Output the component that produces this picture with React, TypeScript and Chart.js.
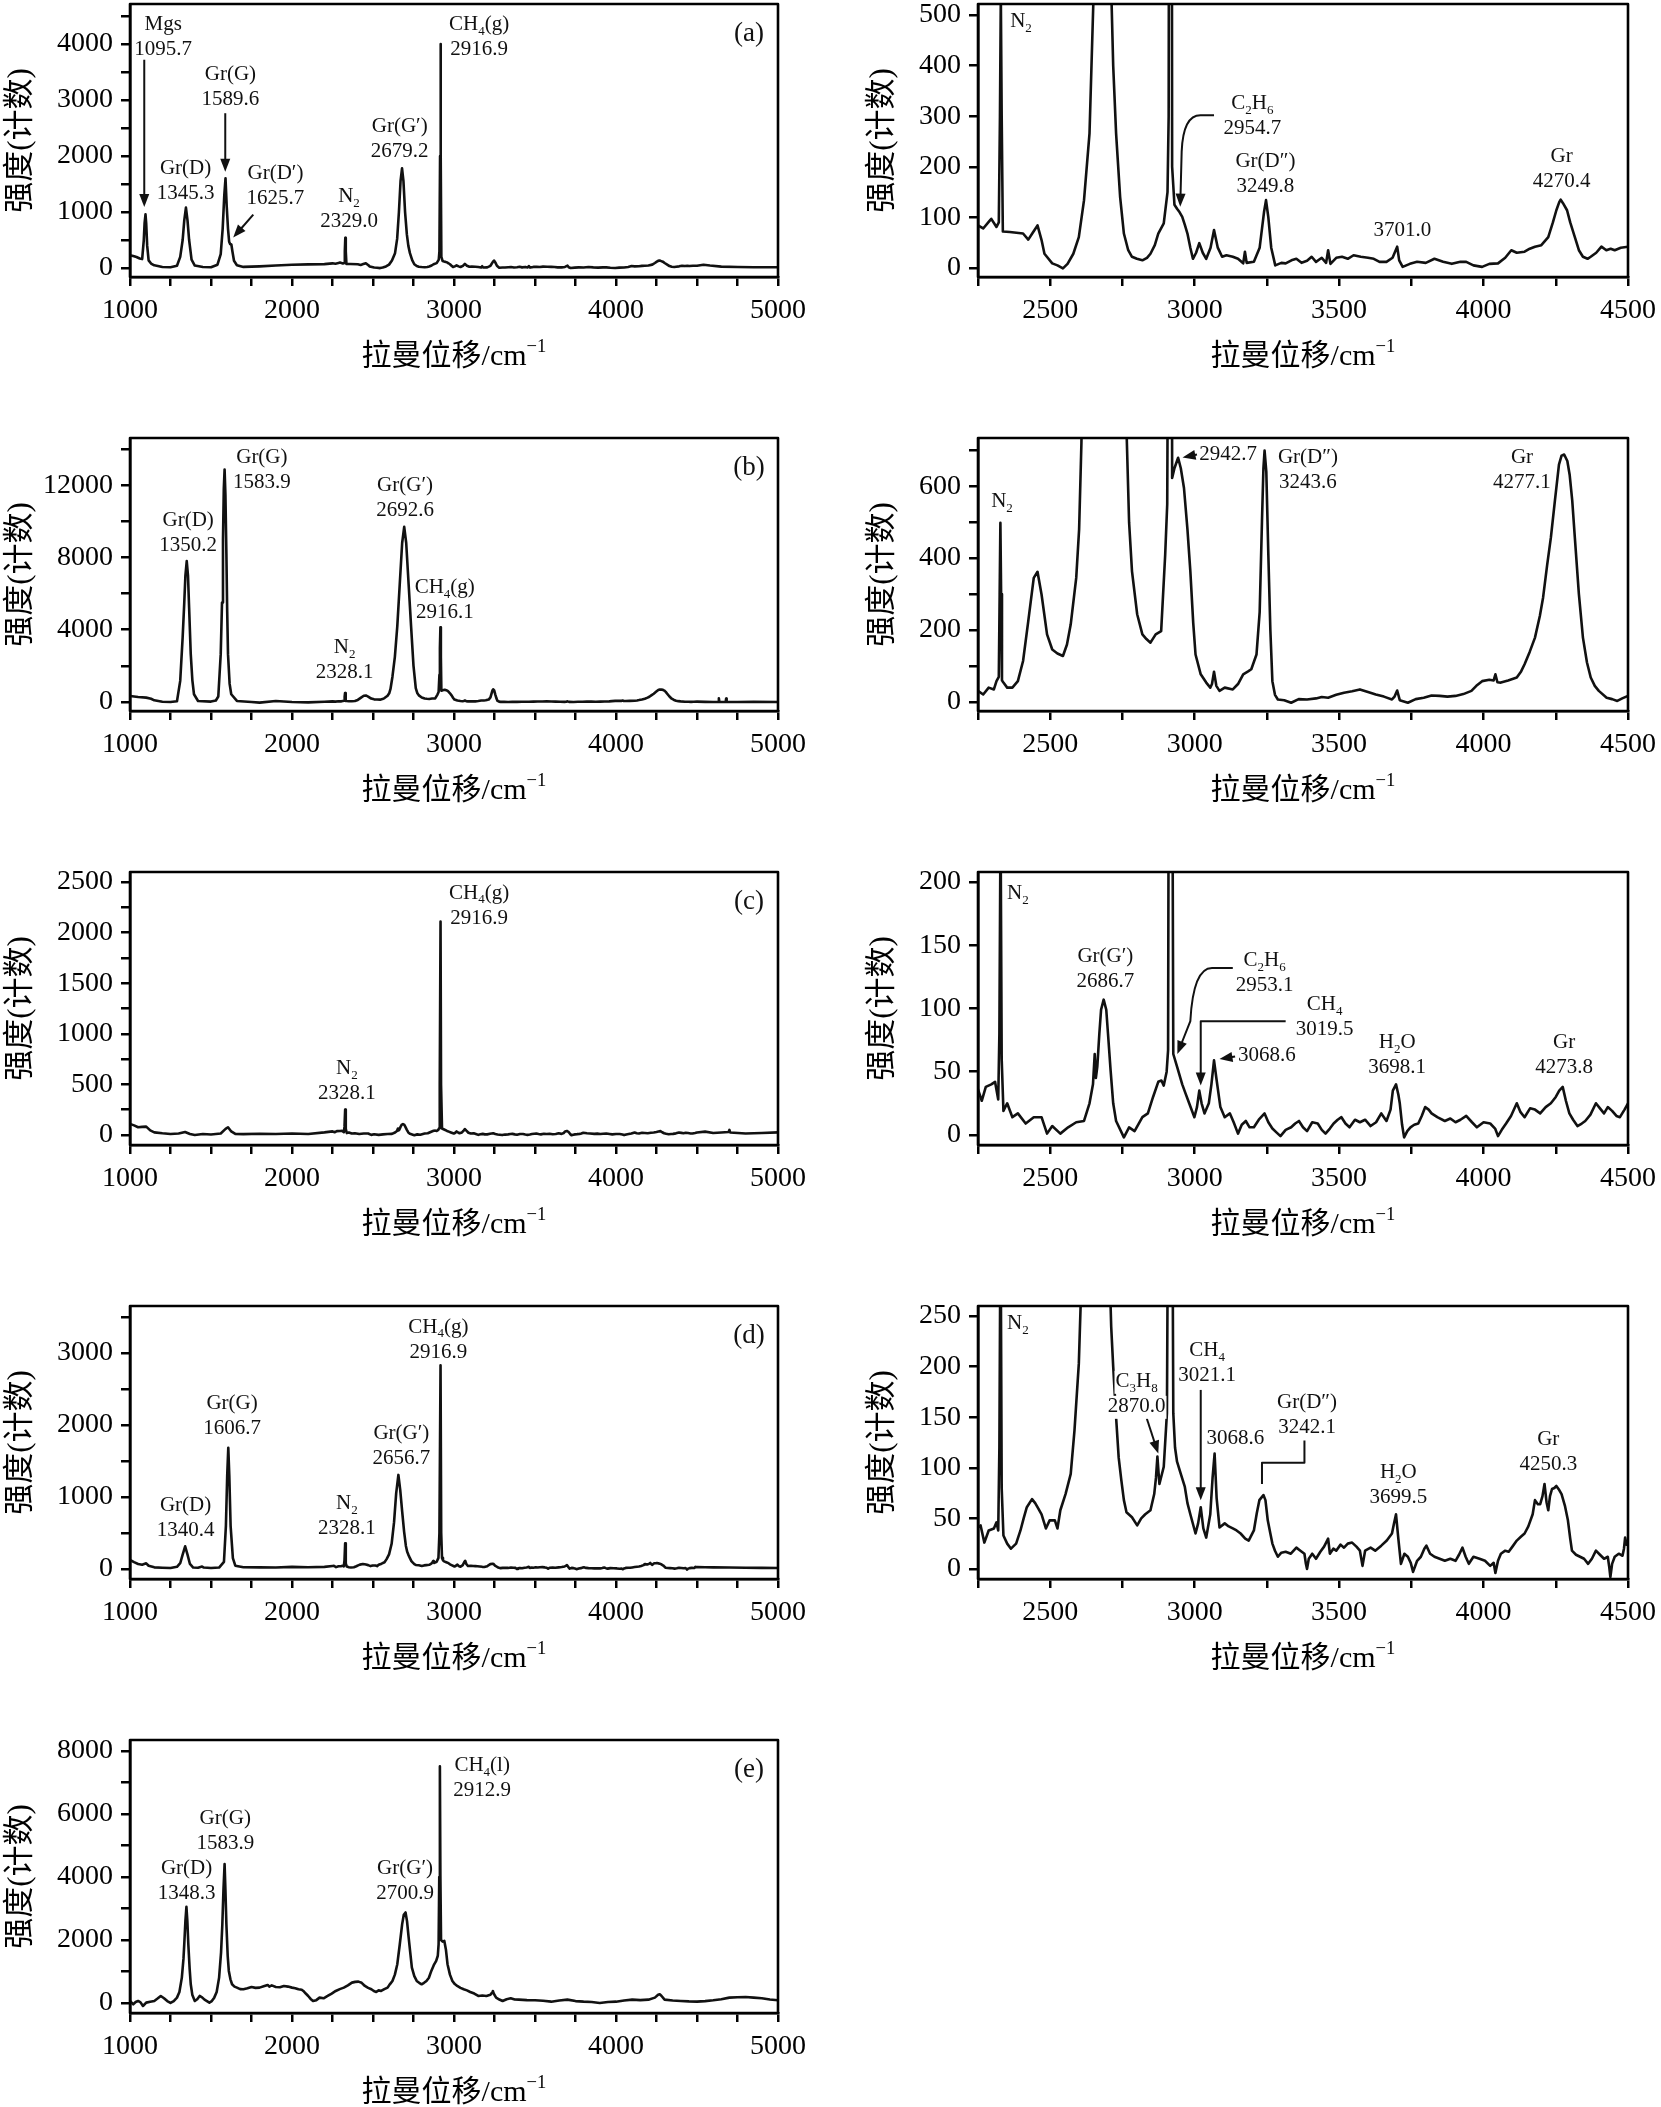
import React, { useEffect, useRef } from 'react';
import { Chart, registerables } from 'chart.js';

Chart.register(...registerables);

type Pt = [number, number];

// ---------- spectra (Raman shift cm-1, intensity counts) ----------
const SPEC_A: Pt[] = [
  [1000, 227], [1020, 215], [1040, 197], [1060, 170], [1075, 160], [1085, 495], [1090, 800], [1095.7, 960], [1100, 800], [1106, 400], [1115, 137], [1130, 80], [1150, 48], [1200, 18], [1250, 15], [1290, 40], [1310, 200], [1325, 500], [1335, 850], [1345.3, 1080], [1355, 850], [1365, 500], [1380, 150], [1400, 45], [1450, 18], [1500, 15], [1540, 60], [1560, 250], [1572, 700], [1582, 1300], [1589.6, 1600], [1597, 1100], [1605, 700], [1612, 470], [1618, 430], [1625.7, 420], [1632, 300], [1642, 130], [1660, 50], [1700, 20], [1800, 30], [1900, 45], [2000, 60], [2100, 65], [2200, 70], [2250, 84],
  [2268, 78], [2287, 91], [2296, 97], [2314, 81], [2322, 90], [2326, 300], [2329, 540], [2332, 300], [2336, 72], [2360, 71], [2406, 68], [2424, 56], [2440, 70], [2456, 84], [2470, 55], [2480, 28], [2507, 9], [2525, 5], [2544, -1], [2560, 8], [2580, 28], [2599, 61], [2617, 134], [2636, 266], [2649, 520], [2660, 1000], [2670, 1550], [2679.2, 1780], [2688, 1550], [2698, 1000], [2709, 600], [2718, 400], [2728, 266], [2742, 140], [2755, 68], [2770, 35], [2783, 22], [2800, 18], [2819, 15], [2835, 20], [2847, 28], [2862, 45], [2874, 68], [2893, 88], [2906, 150], [2910, 300], [2914, 2000], [2916.9, 4000], [2919, 2000], [2922, 200], [2930, 125], [2939, 117], [2948, 110], [2957, 101], [2966, 85], [2975, 68], [2985, 40], [2994, 18], [3005, 30], [3016, 49], [3028, 30], [3040, 18], [3055, 40], [3067, 75], [3080, 40], [3095, 22], [3110, 25], [3132, 22], [3150, 18], [3168, 9], [3174, 32], [3180, 10], [3205, 12], [3225, 40], [3240, 110], [3247, 134], [3255, 100], [3265, 40], [3279, 5], [3300, 10], [3315, 9], [3335, 15], [3352, 18], [3370, 10], [3389, 14], [3405, 22], [3420, 12], [3440, 20], [3455, 10], [3462, 35], [3470, 8], [3490, 20], [3510, 22], [3530, 18], [3550, 25], [3575, 22], [3600, 20], [3620, 18], [3640, 12], [3664, 12], [3685, 20], [3701, 42], [3708, 15], [3720, 2], [3745, 8], [3770, 12], [3800, 10], [3830, 18], [3860, 12], [3890, 8], [3920, 12], [3940, 12], [3965, 5], [3995, 2], [4020, 8], [4050, 9], [4075, 20], [4096, 35], [4115, 30], [4142, 32], [4160, 38], [4178, 42], [4200, 45], [4224, 61], [4240, 90], [4252, 114], [4262, 130], [4267, 135], [4275, 128], [4289, 114], [4300, 90], [4316, 61], [4330, 35], [4344, 22], [4360, 18], [4371, 22], [4390, 30], [4408, 42], [4425, 35], [4440, 38], [4454, 35], [4475, 40], [4500, 42],
  [4540, 60], [4580, 45], [4650, 25], [4750, 18], [4850, 15], [5000, 15],
];

const SPEC_B: Pt[] = [
  [1000, 333], [1050, 278], [1100, 240], [1130, 180], [1150, 92], [1200, 10], [1250, 0], [1290, 40], [1310, 1167], [1325, 3574], [1335, 5500], [1342, 7000], [1350.2, 7800], [1358, 7000], [1365, 5200], [1375, 2648], [1385, 1200], [1395, 426], [1420, 56], [1500, 20], [1530, 80], [1545, 300], [1560, 2648], [1568, 5500], [1574, 9000], [1579, 11800], [1583.9, 12870], [1589, 11500], [1595, 8200], [1600, 5000], [1605, 2648], [1615, 1000], [1625, 426], [1660, 56], [1750, 0], [1800, -37], [1900, 56], [2000, 0], [2100, -20], [2200, 10], [2250, 31],
  [2268, 21], [2287, 40], [2305, 35], [2314, 58], [2322, 70], [2325, 300], [2327.5, 498], [2330, 300], [2333, 60], [2338, 54], [2351, 40], [2369, 40], [2388, 58], [2406, 114], [2424, 225], [2443, 345], [2456, 362], [2470, 299], [2489, 188], [2507, 146], [2525, 135], [2544, 128], [2558, 160], [2571, 216], [2590, 345], [2600, 480], [2608, 720], [2620, 1400], [2635, 2500], [2650, 4200], [2665, 6500], [2680, 8800], [2692.6, 9690], [2705, 8800], [2720, 6500], [2735, 4200], [2750, 2000], [2764, 760], [2773, 500], [2783, 364], [2801, 244], [2819, 188], [2833, 175], [2847, 165], [2865, 188], [2884, 197], [2898, 410], [2905, 550], [2910, 1500], [2913, 3000], [2916.1, 4130], [2919, 2500], [2922, 623], [2930, 650], [2942.7, 679], [2952, 650], [2963, 595], [2975, 480], [2985, 364], [2995, 220], [3003, 132], [3021, 77], [3040, 54], [3054, 40], [3060, 50], [3067, 84], [3075, 45], [3086, 31], [3104, 40], [3132, 35], [3150, 50], [3168, 77], [3185, 85], [3196, 91], [3214, 132], [3225, 250], [3233, 503], [3238, 650], [3242, 699], [3248, 640], [3255, 410], [3262, 200], [3269, 58], [3278, 20], [3288, 7], [3310, 5], [3334, -2], [3360, 8], [3389, 7], [3420, 10], [3440, 14], [3462, 12], [3490, 20], [3517, 26], [3545, 30], [3572, 35], [3600, 28], [3627, 21], [3655, 15], [3683, 7], [3692, 15], [3701, 32], [3710, 5], [3738, -2], [3765, 8], [3793, 12], [3820, 18], [3848, 17], [3875, 15], [3903, 17], [3930, 22], [3958, 31], [3975, 45], [3995, 58], [4020, 62], [4035, 60], [4041, 77], [4048, 55], [4060, 54], [4085, 60], [4115, 68], [4130, 85], [4142, 105], [4160, 140], [4178, 179], [4195, 240], [4206, 290], [4220, 380], [4233, 457], [4247, 560], [4261, 660], [4270, 685], [4279, 688], [4290, 670], [4298, 632], [4307, 560], [4316, 457], [4330, 300], [4344, 179], [4358, 110], [4371, 68], [4385, 45], [4399, 31], [4426, 12], [4445, 8], [4463, 3], [4480, 10], [4500, 17],
  [4550, 5], [4600, 0], [4632, 0], [4635, 200], [4638, 0], [4677, 0], [4680, 190], [4683, 0], [4750, 0], [4850, 5], [5000, 0],
];

const SPEC_C: Pt[] = [
  [1000, 109], [1025, 95], [1050, 76], [1075, 80], [1100, 83], [1125, 45], [1150, 26], [1200, 17], [1250, 10], [1300, 15], [1340, 30], [1370, 10], [1400, 0], [1450, 10], [1500, 5], [1560, 15], [1590, 60], [1605, 76], [1625, 35], [1650, 10], [1700, 8], [1800, 12], [1900, 10], [2000, 15], [2100, 10], [2200, 26], [2250, 36],
  [2263, 27], [2277, 38], [2296, 40], [2309, 42], [2320, 28], [2324, 80], [2328.1, 251], [2332, 60], [2338, 19], [2351, 25], [2369, 14], [2388, 17], [2415, 9], [2443, 14], [2470, 14], [2489, 1], [2507, 7], [2535, 1], [2562, 6], [2590, 10], [2617, 11], [2636, 25], [2648, 40], [2654, 64], [2658, 45], [2663, 54], [2670, 80], [2676, 99], [2685, 107], [2694, 99], [2700, 80], [2709, 51], [2718, 25], [2728, 11], [2755, -2], [2773, 6], [2792, 3], [2819, 14], [2838, 17], [2856, 30], [2874, 42], [2885, 43], [2893, 39], [2903, 50], [2908, 67], [2912, 500], [2916.9, 2110], [2920, 500], [2926, 64], [2939, 54], [2957, 40], [2968, 33], [2981, 25], [2999, 14], [3008, 22], [3016, 35], [3024, 25], [3034, 17], [3049, 25], [3058, 40], [3067, 59], [3075, 45], [3089, 22], [3104, 14], [3122, 17], [3135, 10], [3150, 1], [3163, 8], [3177, 11], [3190, 6], [3205, 6], [3222, 12], [3242, 17], [3255, 10], [3269, 5], [3283, 2], [3297, -1], [3315, 4], [3334, 6], [3348, 9], [3361, 11], [3375, 6], [3389, 3], [3407, 10], [3426, 9], [3440, 4], [3453, 1], [3468, 5], [3481, 9], [3495, 12], [3508, 14], [3522, 9], [3536, 6], [3555, 12], [3572, 10], [3590, 12], [3609, 7], [3628, 10], [3646, 17], [3664, 11], [3678, 20], [3686, 35], [3697, 40], [3705, 32], [3710, 25], [3718, 8], [3725, -2], [3736, 3], [3747, 6], [3760, 8], [3774, 9], [3786, 15], [3798, 22], [3810, 20], [3820, 17], [3840, 14], [3866, 11], [3885, 13], [3903, 10], [3920, 12], [3940, 15], [3960, 10], [3977, 6], [4000, 10], [4023, 9], [4040, 5], [4050, -1], [4063, 4], [4078, 9], [4095, 15], [4115, 25], [4128, 18], [4142, 14], [4161, 21], [4178, 20], [4196, 17], [4215, 22], [4233, 25], [4250, 30], [4262, 35], [4274, 38], [4285, 27], [4297, 17], [4310, 12], [4325, 7], [4340, 9], [4352, 11], [4370, 16], [4389, 25], [4403, 21], [4417, 17], [4430, 22], [4445, 19], [4460, 15], [4472, 14], [4488, 20], [4500, 25],
  [4550, 33], [4600, 20], [4650, 25], [4695, 30], [4700, 50], [4705, 25], [4800, 15], [4900, 20], [5000, 26],
];

const SPEC_D: Pt[] = [
  [1000, 125], [1025, 95], [1050, 70], [1075, 60], [1100, 79], [1115, 45], [1150, 23], [1200, 18], [1250, 14], [1290, 30], [1310, 80], [1325, 200], [1340.4, 315], [1355, 200], [1370, 70], [1390, 20], [1420, 18], [1445, 35], [1455, 20], [1500, 14], [1550, 20], [1580, 100], [1592, 600], [1600, 1300], [1606.7, 1683], [1613, 1300], [1621, 600], [1635, 150], [1650, 46], [1700, 25], [1800, 23], [1900, 20], [2000, 30], [2100, 25], [2200, 30], [2250, 41],
  [2259, 43], [2272, 26], [2287, 38], [2305, 40], [2314, 46], [2320, 38], [2324, 120], [2328.1, 357], [2332, 80], [2338, 33], [2351, 25], [2364, 20], [2382, 25], [2397, 38], [2408, 50], [2419, 61], [2437, 69], [2448, 65], [2456, 61], [2470, 54], [2485, 40], [2498, 48], [2516, 48], [2525, 40], [2535, 58], [2553, 74], [2571, 94], [2584, 137], [2599, 203], [2615, 350], [2630, 650], [2643, 1050], [2656.7, 1307], [2668, 1100], [2680, 800], [2692, 520], [2703, 320], [2711, 240], [2718, 200], [2728, 150], [2737, 110], [2746, 88], [2755, 68], [2764, 56], [2783, 51], [2801, 43], [2815, 50], [2829, 54], [2847, 58], [2860, 74], [2866, 90], [2871, 111], [2875, 95], [2878, 84], [2893, 101], [2904, 154], [2910, 500], [2916.9, 2829], [2921, 500], [2926, 154], [2932, 120], [2939, 106], [2952, 94], [2966, 81], [2975, 65], [2985, 54], [3003, 35], [3012, 45], [3021, 61], [3030, 40], [3040, 31], [3054, 54], [3062, 90], [3069, 114], [3076, 70], [3086, 41], [3104, 45], [3118, 42], [3132, 40], [3145, 38], [3159, 35], [3175, 30], [3187, 28], [3205, 38], [3215, 55], [3224, 68], [3238, 73], [3245, 68], [3253, 48], [3262, 35], [3269, 25], [3278, 18], [3288, 12], [3300, 16], [3315, 17], [3333, 15], [3352, 21], [3366, 18], [3380, 15], [3385, 5], [3389, 0], [3395, 10], [3407, 15], [3420, 10], [3435, 17], [3448, 22], [3462, 30], [3468, 15], [3480, 20], [3490, 18], [3505, 24], [3517, 21], [3530, 25], [3545, 26], [3560, 22], [3572, 18], [3581, 3], [3590, 18], [3609, 21], [3625, 18], [3646, 23], [3665, 28], [3683, 35], [3690, 45], [3697, 54], [3705, 30], [3714, 5], [3726, 15], [3738, 12], [3748, 6], [3756, -3], [3770, 8], [3783, 12], [3795, 20], [3802, 23], [3815, 15], [3830, 12], [3848, 10], [3866, 8], [3885, 10], [3903, 8], [3915, 14], [3927, 21], [3938, 12], [3949, 5], [3965, 12], [3986, 10], [4005, 8], [4023, 3], [4035, 6], [4041, -4], [4050, 8], [4060, 15], [4075, 18], [4087, 17], [4100, 22], [4115, 28], [4130, 32], [4142, 35], [4155, 42], [4170, 54], [4178, 68], [4188, 64], [4196, 64], [4204, 72], [4211, 84], [4218, 66], [4224, 58], [4230, 72], [4237, 79], [4245, 80], [4252, 82], [4262, 78], [4270, 74], [4282, 62], [4292, 48], [4300, 30], [4306, 18], [4320, 14], [4334, 12], [4348, 10], [4362, 5], [4375, 10], [4389, 18], [4403, 14], [4417, 10], [4430, 12], [4435, 2], [4439, -8], [4445, 5], [4454, 12], [4468, 15], [4481, 13], [4486, 20], [4490, 31], [4495, 24], [4500, 26],
  [4550, 25], [4600, 23], [4700, 20], [4800, 18], [4900, 16], [5000, 14],
];

const SPEC_E: Pt[] = [
  [1000, 64], [1020, -42], [1035, 30], [1050, 64], [1065, 20], [1080, -95], [1100, 11], [1125, 40], [1150, 64], [1170, 140], [1190, 223], [1210, 150], [1230, 60], [1250, 0], [1270, 60], [1290, 170], [1305, 350], [1320, 806], [1330, 1400], [1335, 1867], [1342, 2600], [1348.3, 3056], [1354, 2600], [1360, 1867], [1368, 1100], [1375, 594], [1385, 250], [1400, 64], [1415, 120], [1430, 223], [1445, 180], [1460, 106], [1475, 60], [1490, 11], [1505, 60], [1520, 170], [1535, 350], [1550, 806], [1562, 1600], [1570, 2500], [1577, 3600], [1583.9, 4414], [1589, 3600], [1595, 2500], [1603, 1500], [1610, 1019], [1620, 750], [1630, 594], [1645, 520], [1660, 488], [1680, 440], [1700, 435], [1725, 470], [1750, 509], [1775, 480], [1800, 488], [1825, 530], [1850, 573], [1860, 520], [1875, 560], [1900, 509], [1925, 500], [1950, 541], [1975, 520], [2000, 488], [2020, 470], [2040, 435], [2060, 420], [2070, 382], [2085, 300], [2100, 223], [2115, 130], [2130, 64], [2150, 90], [2170, 170], [2195, 150], [2220, 223], [2245, 300], [2270, 382], [2295, 440], [2320, 488], [2345, 560], [2370, 647], [2390, 670], [2410, 679], [2430, 640], [2450, 541], [2470, 480], [2490, 435], [2505, 380], [2520, 350], [2535, 400], [2550, 382], [2570, 440], [2590, 488], [2605, 600], [2620, 700], [2635, 900], [2650, 1231], [2665, 1850], [2680, 2504], [2690, 2800], [2700.9, 2875], [2710, 2600], [2720, 2080], [2730, 1600], [2740, 1125], [2755, 850], [2770, 700], [2785, 640], [2800, 594], [2815, 640], [2830, 700], [2845, 800], [2860, 1019], [2875, 1200], [2890, 1337], [2900, 1500], [2905, 1867], [2909, 4000], [2912.9, 7512], [2916, 4000], [2920, 2000], [2930, 1950], [2940, 1973], [2950, 1700], [2960, 1231], [2975, 900], [2990, 700], [3005, 600], [3020, 541], [3040, 480], [3060, 435], [3080, 400], [3100, 350], [3125, 300], [3150, 223], [3175, 240], [3200, 223], [3225, 260], [3235, 330], [3240, 382], [3245, 300], [3260, 170], [3280, 110], [3300, 64], [3325, 120], [3350, 150], [3375, 110], [3400, 106], [3450, 90], [3500, 85], [3550, 70], [3600, 42], [3650, 80], [3700, 106], [3750, 60], [3800, 42], [3850, 30], [3900, 0], [3950, 30], [4000, 42], [4050, 80], [4100, 106], [4150, 90], [4200, 106], [4240, 170], [4260, 260], [4270, 276], [4280, 230], [4300, 106], [4350, 80], [4400, 64], [4450, 50], [4500, 42], [4550, 60], [4600, 85], [4650, 120], [4700, 170], [4750, 180], [4800, 191], [4850, 170], [4900, 150], [4950, 110], [5000, 85],
];

// ---------- axes ----------
type Axis = { min: number; max: number; step: number; every: number };
const X_FULL: Axis = { min: 1000, max: 5000, step: 250, every: 1000 };
const X_ZOOM: Axis = { min: 2250, max: 4500, step: 250, every: 500 };
const Y_A: Axis = { min: -160, max: 4714, step: 500, every: 1000 };
const Y_A2: Axis = { min: -18, max: 522, step: 100, every: 100 };
const Y_B: Axis = { min: -500, max: 14611, step: 2000, every: 4000 };
const Y_B2: Axis = { min: -25, max: 734, step: 100, every: 200 };
const Y_C: Axis = { min: -99, max: 2599, step: 250, every: 500 };
const Y_C2: Axis = { min: -8, max: 208, step: 50, every: 50 };
const Y_D: Axis = { min: -139, max: 3654, step: 500, every: 1000 };
const Y_D2: Axis = { min: -10, max: 260, step: 50, every: 50 };
const Y_E: Axis = { min: -318, max: 8350, step: 1000, every: 2000 };

const X_TITLE = '拉曼位移/cm^{−1}';
const Y_TITLE = '强度(计数)';

// ---------- annotations ----------
type Note = { x: number; y: number; lines: string[]; align?: 'center' | 'left'; bg?: boolean };
type Seg = ['M' | 'L', number, number] | ['Q', number, number, number, number];
type Arrow = { path: Seg[]; head?: boolean };

const NOTES_A: Note[] = [
  { x: 1205, y: 4346, lines: ['Mgs', '1095.7'] },
  { x: 1620, y: 3451, lines: ['Gr(G)', '1589.6'] },
  { x: 1343, y: 1779, lines: ['Gr(D)', '1345.3'] },
  { x: 1898, y: 1690, lines: ['Gr(D′)', '1625.7'] },
  { x: 2352, y: 1272, lines: ['N_2', '2329.0'] },
  { x: 2665, y: 2525, lines: ['Gr(G′)', '2679.2'] },
  { x: 3155, y: 4346, lines: ['CH_4(g)', '2916.9'] },
];
const ARROWS_A: Arrow[] = [
  { path: [['M', 1088, 3719], ['L', 1088, 1090]] },
  { path: [['M', 1588, 2764], ['L', 1588, 1719]] },
  { path: [['M', 1761, 955], ['L', 1637, 543]] },
];
const NOTES_A2: Note[] = [
  { x: 2399, y: 487, lines: ['N_2'] },
  { x: 3200, y: 325, lines: ['C_2H_6', '2954.7'] },
  { x: 3245, y: 210, lines: ['Gr(D″)', '3249.8'] },
  { x: 3719, y: 74, lines: ['3701.0'] },
  { x: 4270, y: 220, lines: ['Gr', '4270.4'] },
];
const ARROWS_A2: Arrow[] = [
  { path: [['M', 3067, 302], ['L', 3020, 302], ['Q', 2960, 302, 2955, 230], ['L', 2950, 121]] },
];
const NOTES_B: Note[] = [
  { x: 1814, y: 13538, lines: ['Gr(G)', '1583.9'] },
  { x: 1359, y: 10056, lines: ['Gr(D)', '1350.2'] },
  { x: 2325, y: 3019, lines: ['N_2', '2328.1'] },
  { x: 2698, y: 12000, lines: ['Gr(G′)', '2692.6'] },
  { x: 2943, y: 6352, lines: ['CH_4(g)', '2916.1'] },
];
const NOTES_B2: Note[] = [
  { x: 2333, y: 558, lines: ['N_2'] },
  { x: 3016, y: 688, lines: ['2942.7'], align: 'left' },
  { x: 3392, y: 679, lines: ['Gr(D″)', '3243.6'] },
  { x: 4133, y: 679, lines: ['Gr', '4277.1'] },
];
const ARROWS_B2: Arrow[] = [{ path: [['M', 3008, 688], ['L', 2958, 680]] }];
const NOTES_C: Note[] = [
  { x: 2339, y: 655, lines: ['N_2', '2328.1'] },
  { x: 3155, y: 2391, lines: ['CH_4(g)', '2916.9'] },
];
const NOTES_C2: Note[] = [
  { x: 2388, y: 191, lines: ['N_2'] },
  { x: 2691, y: 141, lines: ['Gr(G′)', '2686.7'] },
  { x: 3242, y: 138, lines: ['C_2H_6', '2953.1'] },
  { x: 3450, y: 103, lines: ['CH_4', '3019.5'] },
  { x: 3150, y: 63, lines: ['3068.6'], align: 'left' },
  { x: 3701, y: 73, lines: ['H_2O', '3698.1'] },
  { x: 4279, y: 73, lines: ['Gr', '4273.8'] },
];
const ARROWS_C2: Arrow[] = [
  { path: [['M', 3132, 132], ['L', 3060, 132], ['Q', 2995, 132, 2985, 90], ['L', 2940, 64]] },
  { path: [['M', 3315, 90], ['L', 3021, 90], ['L', 3021, 39]] },
  { path: [['M', 3140, 62], ['L', 3086, 60]] },
];
const NOTES_D: Note[] = [
  { x: 1630, y: 2305, lines: ['Gr(G)', '1606.7'] },
  { x: 1343, y: 881, lines: ['Gr(D)', '1340.4'] },
  { x: 2339, y: 913, lines: ['N_2', '2328.1'] },
  { x: 2675, y: 1878, lines: ['Gr(G′)', '2656.7'] },
  { x: 2904, y: 3362, lines: ['CH_4(g)', '2916.9'] },
];
const NOTES_D2: Note[] = [
  { x: 2388, y: 243, lines: ['N_2'] },
  { x: 2799, y: 185, lines: ['C_3H_8', '2870.0'], bg: true },
  { x: 3043, y: 216, lines: ['CH_4', '3021.1'] },
  { x: 3141, y: 129, lines: ['3068.6'] },
  { x: 3389, y: 165, lines: ['Gr(D″)', '3242.1'] },
  { x: 3705, y: 95, lines: ['H_2O', '3699.5'] },
  { x: 4224, y: 128, lines: ['Gr', '4250.3'] },
];
const ARROWS_D2: Arrow[] = [
  { path: [['M', 2834, 149], ['L', 2874, 114]] },
  { path: [['M', 3021, 177], ['L', 3021, 68]] },
  { path: [['M', 3380, 127], ['L', 3380, 105], ['L', 3233, 105], ['L', 3233, 84]], head: false },
];
const NOTES_E: Note[] = [
  { x: 1588, y: 5846, lines: ['Gr(G)', '1583.9'] },
  { x: 1349, y: 4286, lines: ['Gr(D)', '1348.3'] },
  { x: 2698, y: 4255, lines: ['Gr(G′)', '2700.9'] },
  { x: 3174, y: 7544, lines: ['CH_4(l)', '2912.9'] },
];

type PanelCfg = {
  key: string; row: number; col: 0 | 1; data: Pt[]; x: Axis; y: Axis;
  tag?: string; notes: Note[]; arrows: Arrow[];
};

const PANELS: PanelCfg[] = [
  { key: 'a', row: 0, col: 0, data: SPEC_A, x: X_FULL, y: Y_A, tag: '(a)', notes: NOTES_A, arrows: ARROWS_A },
  { key: 'a2', row: 0, col: 1, data: SPEC_A, x: X_ZOOM, y: Y_A2, notes: NOTES_A2, arrows: ARROWS_A2 },
  { key: 'b', row: 1, col: 0, data: SPEC_B, x: X_FULL, y: Y_B, tag: '(b)', notes: NOTES_B, arrows: [] },
  { key: 'b2', row: 1, col: 1, data: SPEC_B, x: X_ZOOM, y: Y_B2, notes: NOTES_B2, arrows: ARROWS_B2 },
  { key: 'c', row: 2, col: 0, data: SPEC_C, x: X_FULL, y: Y_C, tag: '(c)', notes: NOTES_C, arrows: [] },
  { key: 'c2', row: 2, col: 1, data: SPEC_C, x: X_ZOOM, y: Y_C2, notes: NOTES_C2, arrows: ARROWS_C2 },
  { key: 'd', row: 3, col: 0, data: SPEC_D, x: X_FULL, y: Y_D, tag: '(d)', notes: NOTES_D, arrows: [] },
  { key: 'd2', row: 3, col: 1, data: SPEC_D, x: X_ZOOM, y: Y_D2, notes: NOTES_D2, arrows: ARROWS_D2 },
  { key: 'e', row: 4, col: 0, data: SPEC_E, x: X_FULL, y: Y_E, tag: '(e)', notes: NOTES_E, arrows: [] },
];

// ---------- geometry & style ----------
const ROW_STEP = 434;
const CANVAS_H = 375;
const PLOT_TOP = 4;
const PLOT_BOTTOM = 277;
const COLS = [
  { x0: 0, w: 830, left: 130, right: 778, yTitleX: 21 },
  { x0: 830, w: 831, left: 148, right: 798, yTitleX: 53 },
];
const FAMILY = '"Liberation Serif", "Times New Roman", "Noto Sans CJK SC", serif';
const INK = '#111';
const TICK_SIZE = 28;

// tick positions at every multiple of the axis step inside [min, max]
function axisTicks(a: Axis) {
  const out: { value: number }[] = [];
  const start = Math.ceil(a.min / a.step) * a.step;
  for (let v = start; v <= a.max + 1e-9; v += a.step) out.push({ value: v });
  return out;
}

function parseRich(s: string): { t: string; k: number }[] {
  const out: { t: string; k: number }[] = [];
  let buf = '';
  let i = 0;
  while (i < s.length) {
    const c = s[i];
    if (c === '_' || c === '^') {
      if (buf) { out.push({ t: buf, k: 0 }); buf = ''; }
      let t = '';
      if (s[i + 1] === '{') {
        const j = s.indexOf('}', i + 2);
        t = s.slice(i + 2, j);
        i = j + 1;
      } else {
        t = s[i + 1];
        i += 2;
      }
      out.push({ t, k: c === '_' ? 1 : 2 });
    } else {
      buf += c;
      i++;
    }
  }
  if (buf) out.push({ t: buf, k: 0 });
  return out;
}

function richWidth(ctx: CanvasRenderingContext2D, s: string, size: number) {
  const parts = parseRich(s);
  let w = 0;
  for (const p of parts) {
    ctx.font = `${p.k ? size * 0.62 : size}px ${FAMILY}`;
    w += ctx.measureText(p.t).width;
  }
  return w;
}

function drawRich(ctx: CanvasRenderingContext2D, s: string, x: number, y: number, size: number, align: 'center' | 'left') {
  const parts = parseRich(s);
  const total = richWidth(ctx, s, size);
  let cx = align === 'center' ? x - total / 2 : x;
  ctx.textAlign = 'left';
  ctx.textBaseline = 'middle';
  for (const p of parts) {
    const fs = p.k ? size * 0.62 : size;
    ctx.font = `${fs}px ${FAMILY}`;
    const dy = p.k === 1 ? size * 0.33 : p.k === 2 ? -size * 0.33 : 0;
    ctx.fillText(p.t, cx, y + dy);
    cx += ctx.measureText(p.t).width;
  }
}

function drawArrow(ctx: CanvasRenderingContext2D, a: Arrow, px: (v: number) => number, py: (v: number) => number) {
  let lastX = 0, lastY = 0, prevX = 0, prevY = 0;
  const pts: { cmd: string; v: number[] }[] = [];
  for (const s of a.path) {
    if (s[0] === 'Q') {
      pts.push({ cmd: 'Q', v: [px(s[1]), py(s[2]), px(s[3]), py(s[4])] });
    } else {
      pts.push({ cmd: s[0], v: [px(s[1]), py(s[2])] });
    }
  }
  const head = a.head !== false;
  const L = 13, W = 5;
  const last = pts[pts.length - 1];
  const before = pts[pts.length - 2];
  if (last.cmd === 'Q') { prevX = last.v[0]; prevY = last.v[1]; lastX = last.v[2]; lastY = last.v[3]; }
  else {
    lastX = last.v[0]; lastY = last.v[1];
    prevX = before.cmd === 'Q' ? before.v[2] : before.v[0];
    prevY = before.cmd === 'Q' ? before.v[3] : before.v[1];
  }
  const ang = Math.atan2(lastY - prevY, lastX - prevX);
  ctx.beginPath();
  pts.forEach((p, i) => {
    const isLast = i === pts.length - 1;
    if (p.cmd === 'M') ctx.moveTo(p.v[0], p.v[1]);
    else if (p.cmd === 'L') {
      if (isLast && head) ctx.lineTo(p.v[0] - Math.cos(ang) * L * 0.6, p.v[1] - Math.sin(ang) * L * 0.6);
      else ctx.lineTo(p.v[0], p.v[1]);
    } else ctx.quadraticCurveTo(p.v[0], p.v[1], p.v[2], p.v[3]);
  });
  ctx.stroke();
  if (head) {
    ctx.beginPath();
    ctx.moveTo(lastX, lastY);
    ctx.lineTo(lastX - L * Math.cos(ang) + W * Math.sin(ang), lastY - L * Math.sin(ang) - W * Math.cos(ang));
    ctx.lineTo(lastX - L * Math.cos(ang) - W * Math.sin(ang), lastY - L * Math.sin(ang) + W * Math.cos(ang));
    ctx.closePath();
    ctx.fill();
  }
}

function Panel({ cfg }: { cfg: PanelCfg }) {
  const ref = useRef<HTMLCanvasElement>(null);
  const col = COLS[cfg.col];
  useEffect(() => {
    if (!ref.current) return;
    const deco = {
      id: 'deco' + cfg.key,
      afterDraw(chart: any) {
        const { ctx, chartArea: ca, scales } = chart;
        const px = (v: number) => scales.x.getPixelForValue(v);
        const py = (v: number) => scales.y.getPixelForValue(v);
        ctx.save();
        ctx.fillStyle = INK;
        ctx.strokeStyle = INK;
        ctx.lineWidth = 2;
        ctx.lineJoin = 'round';
        for (const a of cfg.arrows) drawArrow(ctx, a, px, py);
        for (const n of cfg.notes) {
          n.lines.forEach((ln, i) => {
            const x = px(n.x);
            const y = py(n.y) + i * 25;
            if (n.bg) {
              const w = richWidth(ctx, ln, 21);
              ctx.fillStyle = '#fff';
              ctx.fillRect(x - w / 2 - 1, y - 11, w + 2, 23);
              ctx.fillStyle = INK;
            }
            drawRich(ctx, ln, x, y, 21, n.align || 'center');
          });
        }
        if (cfg.tag) {
          ctx.textAlign = 'center';
          ctx.textBaseline = 'middle';
          ctx.font = `27px ${FAMILY}`;
          ctx.fillText(cfg.tag, ca.right - 29, ca.top + 30);
        }
        // frame
        ctx.strokeStyle = '#000';
        ctx.lineWidth = 2.6;
        ctx.strokeRect(ca.left, ca.top, ca.right - ca.left, ca.bottom - ca.top);
        // axis titles
        ctx.fillStyle = '#000';
        drawRich(ctx, X_TITLE, (ca.left + ca.right) / 2, ca.bottom + 80, 30, 'center');
        ctx.save();
        ctx.translate(col.yTitleX, (ca.top + ca.bottom) / 2);
        ctx.rotate(-Math.PI / 2);
        drawRich(ctx, Y_TITLE, 0, 0, 31, 'center');
        ctx.restore();
        ctx.restore();
      },
    };
    const tickFont = { family: FAMILY, size: TICK_SIZE };
    const chart = new Chart(ref.current, {
      type: 'line',
      data: {
        datasets: [{
          data: cfg.data.map(([x, y]) => ({ x, y })),
          borderColor: INK,
          borderWidth: 2.6,
          pointRadius: 0,
          tension: 0,
          fill: false,
        }],
      },
      options: {
        responsive: false,
        animation: false,
        events: [],
        layout: { padding: { top: PLOT_TOP, right: col.w - col.right, left: 0, bottom: 0 } },
        elements: { line: { borderJoinStyle: 'round' } },
        plugins: { legend: { display: false }, tooltip: { enabled: false }, title: { display: false } },
        scales: {
          x: {
            type: 'linear',
            position: 'bottom',
            min: cfg.x.min,
            max: cfg.x.max,
            afterBuildTicks: (s: any) => { s.ticks = axisTicks(cfg.x); },
            afterFit: (s: any) => { s.height = CANVAS_H - PLOT_BOTTOM; s.paddingLeft = 0; s.paddingRight = 0; },
            ticks: {
              autoSkip: false,
              maxRotation: 0,
              minRotation: 0,
              padding: 8,
              color: '#000',
              font: tickFont,
              callback: (v: any) => (Math.abs(Number(v) % cfg.x.every) < 1e-6 ? String(v) : ''),
            },
            grid: { drawOnChartArea: false, drawTicks: true, tickLength: 9, color: '#000', lineWidth: 2.5 },
            border: { display: true, color: '#000', width: 2.6 },
          },
          y: {
            type: 'linear',
            position: 'left',
            min: cfg.y.min,
            max: cfg.y.max,
            afterBuildTicks: (s: any) => { s.ticks = axisTicks(cfg.y); },
            afterFit: (s: any) => { s.width = col.left; s.paddingTop = 0; s.paddingBottom = 0; },
            ticks: {
              autoSkip: false,
              padding: 8,
              color: '#000',
              font: tickFont,
              callback: (v: any) => (Math.abs(Number(v) % cfg.y.every) < 1e-6 ? String(v) : ''),
            },
            grid: { drawOnChartArea: false, drawTicks: true, tickLength: 9, color: '#000', lineWidth: 2.5 },
            border: { display: true, color: '#000', width: 2.6 },
          },
        },
      } as any,
      plugins: [deco],
    });
    return () => chart.destroy();
  }, [cfg]);
  return (
    <canvas
      ref={ref}
      width={col.w}
      height={CANVAS_H}
      style={{ position: 'absolute', left: col.x0, top: cfg.row * ROW_STEP, width: col.w, height: CANVAS_H }}
    />
  );
}

export default function App() {
  return (
    <div style={{ position: 'absolute', left: 0, top: 0, width: 1661, height: 2107, overflow: 'hidden', background: '#fff' }}>
      {PANELS.map((p) => <Panel key={p.key} cfg={p} />)}
    </div>
  );
}
